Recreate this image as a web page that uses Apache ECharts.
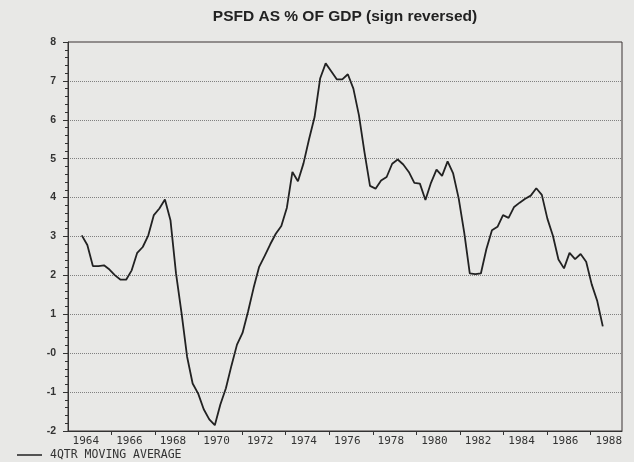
<!DOCTYPE html>
<html>
<head>
<meta charset="utf-8">
<script src="https://cdn.jsdelivr.net/npm/echarts@6/dist/echarts.min.js"></script>
<style>
  html, body { margin: 0; padding: 0; background: #e8e8e6; }
  #chart { width: 634px; height: 462px; }
</style>
</head>
<body>
<div id="chart"></div>
<script>
// Quarterly series, first observation 1964 Q1
const firstYear = 1964;
const seriesName = '4QTR MOVING AVERAGE';
const psfdValues = [
  3.03, 2.78, 2.24, 2.24, 2.26, 2.15, 2.00, 1.89, 1.89, 2.13,
  2.58, 2.73, 3.03, 3.55, 3.72, 3.95, 3.42, 2.05, 1.03, -0.09,
  -0.78, -1.04, -1.44, -1.70, -1.85, -1.32, -0.90, -0.32, 0.22, 0.52,
  1.07, 1.68, 2.22, 2.50, 2.80, 3.07, 3.27, 3.74, 4.66, 4.42,
  4.88, 5.50, 6.07, 7.06, 7.45, 7.25, 7.04, 7.04, 7.17, 6.80,
  6.12, 5.17, 4.30, 4.23, 4.44, 4.53, 4.87, 4.98, 4.85, 4.66,
  4.38, 4.36, 3.94, 4.38, 4.72, 4.56, 4.93, 4.62, 3.98, 3.10,
  2.05, 2.03, 2.05, 2.68, 3.16, 3.25, 3.55, 3.48, 3.76, 3.87,
  3.97, 4.05, 4.24, 4.07, 3.46, 3.02, 2.41, 2.18, 2.58, 2.42,
  2.55, 2.35, 1.77, 1.34, 0.69
];
const yearLabels = [1964, 1966, 1968, 1970, 1972, 1974, 1976, 1978, 1980, 1982, 1984, 1986, 1988];
const yTickValues = [-2, -1, 0, 1, 2, 3, 4, 5, 6, 7, 8];

const seriesData = psfdValues.map((v, i) => [firstYear + i / 4, v]);
const tickPositions = yearLabels.slice(0, -1).map(y => y + 1.17);

const chart = echarts.init(document.getElementById('chart'), null, { renderer: 'canvas' });
chart.setOption({
  animation: false,
  backgroundColor: '#e8e8e6',
  title: {
    text: 'PSFD AS % OF GDP (sign reversed)',
    left: 345,
    top: 9,
    textAlign: 'center',
    padding: 0,
    textStyle: { fontFamily: 'Liberation Sans', fontWeight: 'bold', fontSize: 15.5, color: '#222' }
  },
  legend: {
    left: 17,
    top: 449,
    padding: 0,
    icon: 'rect',
    itemWidth: 25,
    itemHeight: 1.5,
    data: [seriesName],
    textStyle: { fontFamily: 'DejaVu Sans Mono', fontSize: 11.5, color: '#333', padding: [0, 0, 0, 3] }
  },
  grid: {
    left: 68, right: 12, top: 42, bottom: 31,
    show: true, borderColor: '#3a3232', borderWidth: 1, backgroundColor: 'transparent'
  },
  xAxis: [
    { type: 'value', min: 1963.378, max: 1988.366, show: false },
    {
      type: 'value', min: 1963.183, max: 1988.607, position: 'bottom',
      axisLine: { show: true, lineStyle: { color: '#333', width: 1 } },
      axisTick: { show: true, inside: false, length: 4, customValues: tickPositions, lineStyle: { color: '#333' } },
      axisLabel: {
        customValues: yearLabels,
        formatter: v => String(Math.round(v)),
        fontFamily: 'DejaVu Sans Mono', fontSize: 11, color: '#333', margin: 5
      },
      splitLine: { show: false }
    }
  ],
  yAxis: {
    type: 'value', min: yTickValues[0], max: yTickValues[yTickValues.length - 1], interval: 1,
    axisLine: { show: true, lineStyle: { color: '#333', width: 1 } },
    axisTick: { show: true, inside: false, length: 5, lineStyle: { color: '#333' } },
    minorTick: { show: true, splitNumber: 5, length: 3, lineStyle: { color: '#333' } },
    splitLine: { show: true, showMinLine: false, showMaxLine: false, lineStyle: { type: 'dotted', color: '#808080', width: 1 } },
    axisLabel: {
      formatter: v => (v === 0 ? '-0' : String(v)),
      fontFamily: 'Liberation Sans', fontWeight: 'bold', fontSize: 10.5, color: '#333', margin: 12,
      padding: [0, 0, 3, 0]
    }
  },
  series: [{
    name: seriesName,
    type: 'line',
    xAxisIndex: 0,
    data: seriesData,
    symbol: 'none',
    lineStyle: { color: '#222', width: 1.8 },
    itemStyle: { color: '#222' }
  }]
});
</script>
</body>
</html>
